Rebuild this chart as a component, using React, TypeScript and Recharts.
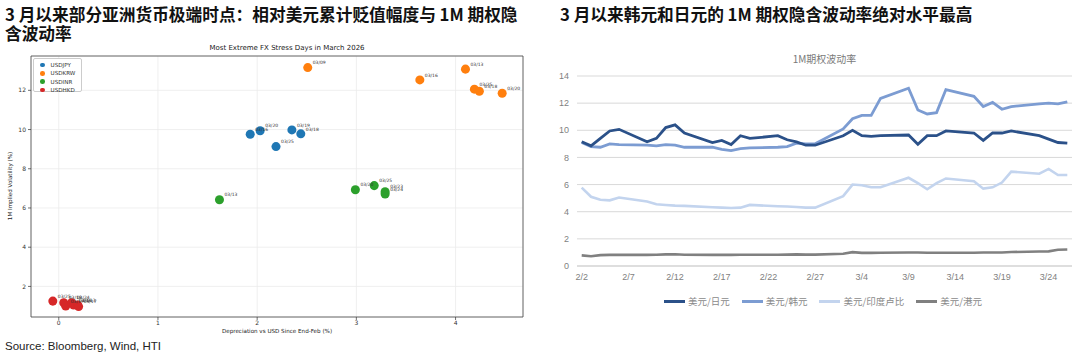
import React from 'react';
import {
    ScatterChart,
    Scatter,
    LineChart,
    Line,
    XAxis,
    YAxis,
    ZAxis,
    CartesianGrid,
    ReferenceArea,
    LabelList,
} from 'recharts';

// ---------- left chart: stress days scatter ----------
const jpyX = [1.93, 2.03, 2.19, 2.35, 2.44];
const jpyY = [9.76, 9.94, 9.13, 9.98, 9.78];
const jpyLabels = ['03/16', '03/20', '03/25', '03/19', '03/18'];

const krwX = [2.51, 3.64, 4.1, 4.19, 4.24, 4.47];
const krwY = [13.16, 12.53, 13.08, 12.06, 11.95, 11.85];
const krwLabels = ['03/09', '03/16', '03/13', '03/25', '03/18', '03/20'];

const inrX = [1.62, 2.99, 3.18, 3.29, 3.29];
const inrY = [6.42, 6.93, 7.14, 6.83, 6.71];
const inrLabels = ['03/13', '03/20', '03/25', '03/23', '03/24'];

const hkdX = [-0.06, 0.05, 0.07, 0.13, 0.15, 0.19, 0.2];
const hkdY = [1.25, 1.17, 1.0, 1.17, 1.05, 1.05, 0.97];
const hkdLabels = ['03/25', '03/18', '03/19', '03/24', '03/16', '03/13', '03/17'];

const scatterXTicks = [0, 1, 2, 3, 4];
const scatterYTicks = [2, 4, 6, 8, 10, 12];

// ---------- right chart: 1M implied vol ----------
const days = [
    '2/2', '2/3', '2/4', '2/5', '2/6', '2/7', '2/8', '2/9', '2/10', '2/11', '2/12', '2/13', '2/14', '2/15',
    '2/16', '2/17', '2/18', '2/19', '2/20', '2/21', '2/22', '2/23', '2/24', '2/25', '2/26', '2/27', '2/28',
    '3/1', '3/2', '3/3', '3/4', '3/5', '3/6', '3/7', '3/8', '3/9', '3/10', '3/11', '3/12', '3/13', '3/14',
    '3/15', '3/16', '3/17', '3/18', '3/19', '3/20', '3/21', '3/22', '3/23', '3/24', '3/25', '3/26',
];
// weekends are null (no fixing), lines connect across them
const usdJpy = [
    9.15, 8.85, 9.4, 9.95, 10.07, null, null, 9.15, 9.4, 10.2, 10.4, 9.8, null, null,
    9.1, 9.25, 8.95, 9.6, 9.4, null, null, 9.6, 9.3, 9.15, 8.9, 8.9, null,
    null, 9.6, 10.0, 9.6, 9.55, 9.6, null, null, 9.65, 8.97, 9.6, 9.6, 9.95, null,
    null, 9.8, 9.25, 9.8, 9.8, 9.95, null, null, 9.6, 9.35, 9.1, 9.05,
];
const usdKrw = [
    9.1, 8.8, 8.75, 9.0, 8.95, null, null, 8.9, 8.85, 8.95, 8.9, 8.75, null, null,
    8.75, 8.6, 8.5, 8.65, 8.7, null, null, 8.75, 8.8, 9.05, 9.0, 9.0, null,
    null, 10.1, 10.85, 11.1, 11.1, 12.35, null, null, 13.1, 11.5, 11.2, 11.3, 13.0, null,
    null, 12.5, 11.75, 12.05, 11.55, 11.75, null, null, 11.95, 12.0, 11.95, 12.1,
];
const usdInr = [
    5.77, 5.1, 4.88, 4.84, 5.05, null, null, 4.75, 4.55, 4.5, 4.45, 4.43, null, null,
    4.33, 4.3, 4.27, 4.3, 4.5, null, null, 4.4, 4.38, 4.35, 4.3, 4.3, null,
    null, 5.15, 6.0, 5.95, 5.8, 5.8, null, null, 6.5, 6.1, 5.65, 6.1, 6.45, null,
    null, 6.25, 5.7, 5.8, 6.15, 6.95, null, null, 6.8, 7.15, 6.7, 6.7,
];
const usdHkd = [
    0.78, 0.72, 0.8, 0.82, 0.82, null, null, 0.82, 0.83, 0.86, 0.87, 0.83, null, null,
    0.82, 0.82, 0.82, 0.83, 0.83, null, null, 0.83, 0.84, 0.86, 0.84, 0.84, null,
    null, 0.9, 1.02, 0.97, 0.97, 0.98, null, null, 1.0, 1.0, 0.98, 0.98, 0.98, null,
    null, 0.98, 0.99, 1.0, 1.0, 1.03, null, null, 1.07, 1.08, 1.2, 1.22,
];
const volTicks = [0, 2, 4, 6, 8, 10, 12, 14];

const zip = (xs: number[], ys: number[], labels: string[]) =>
    xs.map((x, i) => ({ x, y: ys[i], label: labels[i] }));

const scatterSeries = [
    { name: 'USDJPY', color: '#1f77b4', data: zip(jpyX, jpyY, jpyLabels) },
    { name: 'USDKRW', color: '#ff7f0e', data: zip(krwX, krwY, krwLabels) },
    { name: 'USDINR', color: '#2ca02c', data: zip(inrX, inrY, inrLabels) },
    { name: 'USDHKD', color: '#d62728', data: zip(hkdX, hkdY, hkdLabels) },
];

const volData = days.map((d, i) => ({
    day: d,
    jpy: usdJpy[i],
    krw: usdKrw[i],
    inr: usdInr[i],
    hkd: usdHkd[i],
}));

const lineSeries = [
    { key: 'jpy', name: '美元/日元', color: '#2B5189', width: 2.8 },
    { key: 'krw', name: '美元/韩元', color: '#7C9CD2', width: 2.8 },
    { key: 'inr', name: '美元/印度卢比', color: '#C3D4EE', width: 2.6 },
    { key: 'hkd', name: '美元/港元', color: '#808080', width: 2.6 },
];

const MPL = '"DejaVu Sans", sans-serif';
const CJK = '"Noto Sans CJK SC", "Noto Sans", sans-serif';

const PointLabel = (props: any) => {
    const { x, y, width, value } = props;
    return (
        <text x={x + width + 0.5} y={y + 1.2} fontSize={4.5} fill="#333" fontFamily={MPL}>
            {value}
        </text>
    );
};

const titleStyle: React.CSSProperties = {
    position: 'absolute',
    fontFamily: CJK,
    fontWeight: 700,
    fontSize: 16.7,
    color: '#111',
    whiteSpace: 'nowrap',
    lineHeight: '20px',
};

const App: React.FC = () => {
    return (
        <div style={{ position: 'absolute', left: 0, top: 0, width: 1080, height: 354, background: '#fff', overflow: 'hidden' }}>
            {/* left panel */}
            <div style={{ ...titleStyle, left: 5, top: 4 }}>3 月以来部分亚洲货币极端时点：相对美元累计贬值幅度与 1M 期权隐</div>
            <div style={{ ...titleStyle, left: 5, top: 23 }}>含波动率</div>

            <div style={{ position: 'absolute', left: 0, top: 0 }}>
                <ScatterChart width={540} height={354} margin={{ top: 56, right: 17, bottom: 17, left: 0 }}>
                    <CartesianGrid stroke="#ebebeb" strokeWidth={0.8} />
                    <XAxis
                        type="number"
                        dataKey="x"
                        domain={[-0.28, 4.68]}
                        ticks={scatterXTicks}
                        allowDataOverflow
                        height={20}
                        axisLine={false}
                        tickLine={{ stroke: '#333', strokeWidth: 0.7 }}
                        tickSize={3}
                        tickMargin={1}
                        tick={{ fill: '#333', fontSize: 6, fontFamily: MPL }}
                    />
                    <YAxis
                        type="number"
                        dataKey="y"
                        domain={[0.44, 13.75]}
                        ticks={scatterYTicks}
                        allowDataOverflow
                        width={31}
                        axisLine={false}
                        tickLine={{ stroke: '#333', strokeWidth: 0.7 }}
                        tickSize={3}
                        tickMargin={2}
                        tick={{ fill: '#333', fontSize: 6, fontFamily: MPL }}
                    />
                    <ZAxis range={[18, 18]} />
                    <ReferenceArea
                        x1={-0.28}
                        x2={4.68}
                        y1={0.44}
                        y2={13.75}
                        fill="none"
                        fillOpacity={0}
                        stroke="#444"
                        strokeWidth={0.8}
                        ifOverflow="visible"
                    />
                    {scatterSeries.map((s) => (
                        <Scatter
                            key={s.name}
                            name={s.name}
                            data={s.data}
                            fill={s.color}
                            isAnimationActive={false}
                        >
                            <LabelList dataKey="label" content={PointLabel} />
                        </Scatter>
                    ))}
                </ScatterChart>
            </div>

            <div style={{ position: 'absolute', left: 170, top: 44, width: 234, textAlign: 'center', fontFamily: MPL, fontSize: 7, color: '#222' }}>
                Most Extreme FX Stress Days in March 2026
            </div>
            <div style={{ position: 'absolute', left: 31, top: 328, width: 492, textAlign: 'center', fontFamily: MPL, fontSize: 5.6, color: '#222' }}>
                Depreciation vs USD Since End-Feb (%)
            </div>
            <div
                style={{
                    position: 'absolute',
                    left: 10,
                    top: 186,
                    transform: 'translate(-50%, -50%) rotate(-90deg)',
                    fontFamily: MPL,
                    fontSize: 5.6,
                    color: '#222',
                    whiteSpace: 'nowrap',
                }}
            >
                1M Implied Volatility (%)
            </div>

            {/* scatter legend */}
            <div
                style={{
                    position: 'absolute',
                    left: 33,
                    top: 58,
                    width: 49,
                    height: 34,
                    border: '0.8px solid #ccc',
                    borderRadius: 2,
                    background: '#fff',
                    boxSizing: 'border-box',
                    padding: '2px 0 0 6px',
                }}
            >
                {scatterSeries.map((s) => (
                    <div key={s.name} style={{ display: 'flex', alignItems: 'center', height: 8.3 }}>
                        <span style={{ width: 4.6, height: 4.6, borderRadius: '50%', background: s.color, display: 'inline-block' }} />
                        <span style={{ marginLeft: 6, fontFamily: MPL, fontSize: 5.6, color: '#333' }}>{s.name}</span>
                    </div>
                ))}
            </div>

            <div style={{ position: 'absolute', left: 5, top: 340, fontFamily: '"Liberation Sans", Arial, sans-serif', fontSize: 11.5, color: '#222' }}>
                Source: Bloomberg, Wind, HTI
            </div>

            {/* right panel */}
            <div style={{ ...titleStyle, left: 560, top: 4 }}>3 月以来韩元和日元的 1M 期权隐含波动率绝对水平最高</div>
            <div style={{ position: 'absolute', left: 577, top: 51, width: 495, textAlign: 'center', fontFamily: CJK, fontSize: 10, color: '#7a7a7a' }}>
                1M期权波动率
            </div>

            <div style={{ position: 'absolute', left: 540, top: 0 }}>
                <LineChart width={540} height={354} data={volData} margin={{ top: 76, right: 8, bottom: 64, left: 0 }}>
                    <CartesianGrid vertical={false} stroke="#d9d9d9" strokeWidth={1} />
                    <XAxis
                        dataKey="day"
                        interval={4}
                        padding={{ left: 4.7, right: 4.7 }}
                        height={24}
                        axisLine={{ stroke: '#d0d0d0' }}
                        tickLine={false}
                        tick={{ fill: '#7f7f7f', fontSize: 9, fontFamily: '"Liberation Sans", Arial, sans-serif' }}
                    />
                    <YAxis
                        domain={[0, 14]}
                        ticks={volTicks}
                        width={37}
                        axisLine={false}
                        tickLine={false}
                        tick={{ fill: '#7f7f7f', fontSize: 9, fontFamily: '"Liberation Sans", Arial, sans-serif' }}
                    />
                    {[lineSeries[3], lineSeries[2], lineSeries[1], lineSeries[0]].map((s) => (
                        <Line
                            key={s.key}
                            type="linear"
                            dataKey={s.key}
                            name={s.name}
                            stroke={s.color}
                            strokeWidth={s.width}
                            dot={false}
                            connectNulls
                            isAnimationActive={false}
                        />
                    ))}
                </LineChart>
            </div>

            {/* line legend */}
            <div style={{ position: 'absolute', left: 664, top: 294, display: 'flex', alignItems: 'center' }}>
                {lineSeries.map((s) => (
                    <div key={s.key} style={{ display: 'flex', alignItems: 'center', marginRight: 12 }}>
                        <span style={{ width: 21, height: 3, background: s.color, display: 'inline-block' }} />
                        <span style={{ marginLeft: 3, fontFamily: CJK, fontSize: 9.5, color: '#8a8a8a' }}>{s.name}</span>
                    </div>
                ))}
            </div>
        </div>
    );
};

export default App;
